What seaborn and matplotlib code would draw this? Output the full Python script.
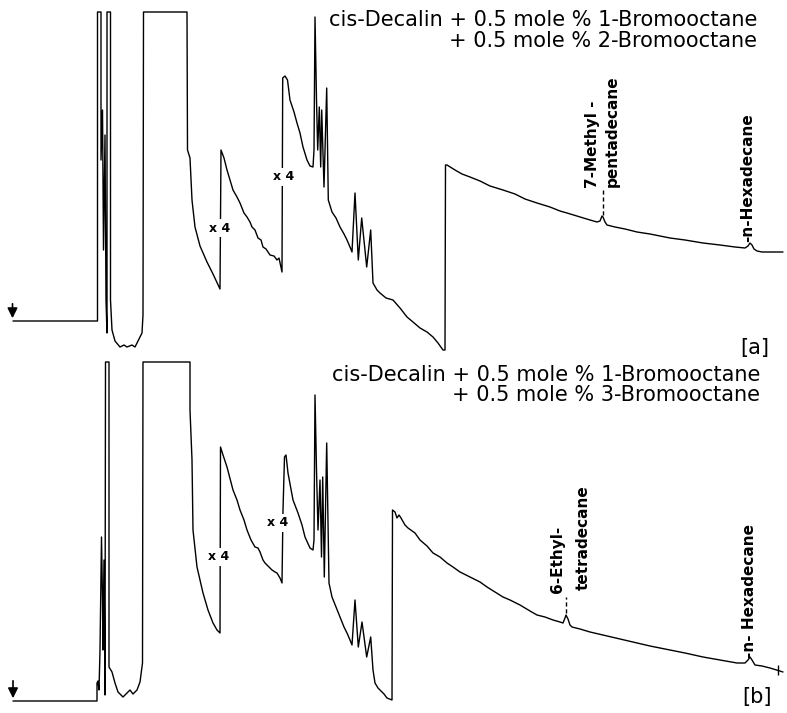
import matplotlib
matplotlib.use("Agg")
import matplotlib.pyplot as plt
import seaborn as sns
import pandas as pd

# ---------------- data: chromatogram traces (retention time, detector signal) ----------------
time_a = [13, 97.5, 97.5, 101, 101, 102.5, 103.5, 105, 106, 107, 107, 110.5, 110.5, 112, 115, 120, 124, 127,
          132, 135, 138, 142, 143, 143.5, 187, 187.5, 190, 192, 195, 200, 207, 213, 220, 221, 224, 227, 233,
          237, 240, 244, 247, 250, 252, 255, 258, 261, 263, 266, 270, 274, 277, 279, 282, 282.7, 285, 287.5,
          290, 294, 297, 300, 303, 307, 310, 313, 314, 315, 316.5, 317.7, 319.3, 320.7, 321.7, 324, 326.7,
          328.3, 332, 336, 340, 344, 347, 350, 352, 355, 358.3, 361.7, 366.7, 370.7, 373, 377, 380, 386, 393,
          400, 407, 413, 420, 427, 433, 438, 443, 445, 445.5, 447, 455, 462, 470, 480, 490, 503, 515, 525,
          537, 550, 560, 567, 580, 590, 597, 600, 602, 603, 605, 607, 615, 625, 637, 650, 660, 670, 685, 703,
          720, 735, 745, 748, 750, 752, 754, 757, 762, 770, 783]
signal_a = [0, 0, 309, 309, 161, 211, 71, 186, 21, -12, 309, 309, 21, -9, -20, -26, -24, -26,
            -24, -26, -20, -12, 6, 309, 309, 171, 163, 121, 94, 75, 59, 47, 32, 171, 163, 151, 131,
            124, 118, 108, 104, 99, 94, 91, 83, 81, 74, 72, 66, 65, 61, 63, 49, 243, 245, 241,
            221, 209, 198, 188, 174, 161, 155, 154, 171, 304, 221, 171, 214, 154, 211, 134, 233,
            121, 109, 103, 94, 87, 81, 74, 69, 128, 61, 103, 54, 91, 38, 31, 28, 23, 21,
            13, 4, -1, -7, -11, -16, -22, -29, -29, 156, 156, 151, 147, 144, 140, 135, 131, 127, 122,
            118, 114, 110, 108, 104, 101, 99, 100, 105, 104, 99, 96, 94, 92, 89, 87, 85, 83, 81, 78,
            76, 74, 73, 75, 78, 76, 72, 70, 69, 69, 69]

time_b = [13, 97, 97, 98, 99, 100, 101.5, 102.5, 103, 104, 105, 105.5, 109, 109, 112, 115, 118, 123, 127,
          130, 133, 137, 140, 142.5, 143, 190, 190, 192, 193, 197, 203, 208, 213, 217, 220, 220.5, 223, 227,
          233, 237, 240, 244, 247, 251, 255, 258, 260, 263, 265, 268, 272, 275, 277, 280, 282, 283, 284.5,
          286, 288, 293, 298, 302, 305, 310, 313, 314, 315, 316.5, 318, 320, 321.5, 322.7, 324.3, 326.7,
          328, 329, 332, 336, 340, 344, 347, 350, 352, 355, 358.3, 362, 366.7, 370.7, 373, 375, 378, 380,
          384, 387, 392, 392.5, 395, 397, 399, 401, 405, 408, 415, 420, 427, 433, 440, 447, 453, 460, 470,
          480, 487, 495, 503, 510, 520, 530, 537, 545, 553, 560, 563, 565, 566, 568, 570, 572, 580, 590,
          603, 620, 637, 650, 670, 685, 703, 720, 737, 745, 748, 750, 752, 755, 762, 770, 783]
signal_b = [0, 0, 18, 20, 11, 51, 164, 101, 51, 141, 6, 339, 339, 34, 29, 18, 9, 4, 8,
            11, 7, 11, 19, 38, 339, 339, 291, 241, 171, 134, 108, 91, 78, 71, 68, 254, 246, 234,
            211, 201, 191, 181, 171, 161, 154, 153, 149, 141, 138, 135, 131, 129, 128, 123, 118, 191, 244,
            246, 228, 201, 188, 176, 164, 153, 151, 161, 306, 231, 171, 221, 144, 224, 124, 258,
            181, 118, 104, 94, 84, 74, 68, 61, 56, 101, 54, 79, 44, 64, 31, 18, 13, 11,
            7, 3, 1, 191, 189, 183, 186, 183, 176, 173, 168, 161, 155, 148, 144, 138, 134, 129, 124,
            119, 114, 109, 104, 101, 96, 90, 86, 84, 81, 79, 78, 83, 86, 82, 76, 74, 72, 69,
            66, 62, 58, 55, 51, 48, 44, 41, 38, 38, 41, 44, 41, 36, 35, 33, 29]

title_a = ["cis-Decalin + 0.5 mole % 1-Bromooctane", "+ 0.5 mole % 2-Bromooctane"]
title_b = ["cis-Decalin + 0.5 mole % 1-Bromooctane", "+ 0.5 mole % 3-Bromooctane"]
panel_tags = ["[a]", "[b]"]

# labelled peaks: (time, label lines)
peaks_a = [(602.7, ["7-Methyl -", "pentadecane"]), (748, ["-n-Hexadecane"])]
peaks_b = [(566, ["6-Ethyl-", "tetradecane"]), (750, ["-n- Hexadecane"])]

# ---------------- figure ----------------
sns.set_style("white")
plt.rcParams["font.family"] = ["DejaVu Sans"]
plt.rcParams["text.color"] = "black"

W, H = 787, 713
fig = plt.figure(figsize=(W / 100, H / 100), dpi=100)
half = 356.5
ax_a = fig.add_axes([0, half / H, 1, half / H])
ax_b = fig.add_axes([0, 0, 1, half / H])

df_a = pd.DataFrame({"time": time_a, "signal": signal_a})
df_b = pd.DataFrame({"time": time_b, "signal": signal_b})

for ax, df in ((ax_a, df_a), (ax_b, df_b)):
    sns.lineplot(data=df, x="time", y="signal", sort=False, estimator=None,
                 color="black", linewidth=1.0, ax=ax)
    ax.set_xlim(0, W)
    ax.axis("off")

ax_a.set_ylim(-35.5, 321)
ax_b.set_ylim(-12, 344.5)

title_fs = 15
# titles
ax_a.text(757, 301, title_a[0], ha="right", va="center", fontsize=title_fs, color="black")
ax_a.text(757, 280, title_a[1], ha="right", va="center", fontsize=title_fs, color="black")
ax_b.text(760, 326, title_b[0], ha="right", va="center", fontsize=title_fs, color="black")
ax_b.text(760, 306, title_b[1], ha="right", va="center", fontsize=title_fs, color="black")

ax_a.text(755, -27, panel_tags[0], ha="center", va="center", fontsize=15, color="black")
ax_b.text(757, 4, panel_tags[1], ha="center", va="center", fontsize=15, color="black")

# x4 attenuation labels
box = dict(facecolor="white", edgecolor="none", pad=1.5)
for ax, pos in ((ax_a, [(220, 93), (284, 144)]), (ax_b, [(219, 144), (278, 178)])):
    for (x, y) in pos:
        ax.text(x, y, "x 4", ha="center", va="center", fontsize=9, fontweight="bold",
                color="black", bbox=box)

# peak labels
lab_fs = 11
kw = dict(rotation=90, ha="center", va="bottom", fontsize=lab_fs, fontweight="bold", color="black")
ax_a.text(592, 133, peaks_a[0][1][0], **kw)
ax_a.text(612, 134, peaks_a[0][1][1], **kw)
ax_a.plot([peaks_a[0][0]] * 2, [106, 131], color="black", lw=1, ls=(0, (3, 2)))
ax_a.text(peaks_a[1][0], 79, peaks_a[1][1][0], **kw)

ax_b.text(558, 108, peaks_b[0][1][0], **kw)
ax_b.text(583, 111, peaks_b[0][1][1], **kw)
ax_b.plot([peaks_b[0][0]] * 2, [88, 104], color="black", lw=1, ls=(0, (3, 2)))
ax_b.text(peaks_b[1][0], 43, peaks_b[1][1][0], **kw)

# end-of-run tick on trace b
ax_b.plot([778], [31], marker="|", color="black", markersize=7, mew=1)

# injection arrows
arrow = dict(arrowstyle="-|>,head_length=0.6,head_width=0.3", color="black", lw=1.2)
ax_a.annotate("", xy=(12.5, 0), xytext=(12.5, 20), arrowprops=arrow)
ax_b.annotate("", xy=(13, 0), xytext=(13, 23), arrowprops=arrow)

fig.savefig("out.png", dpi=100, facecolor="white")
